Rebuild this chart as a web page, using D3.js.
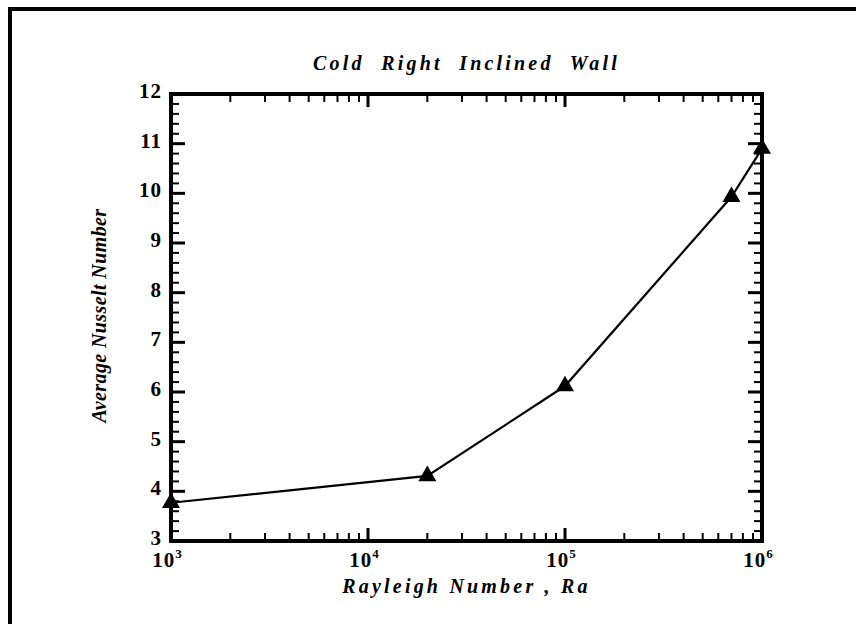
<!DOCTYPE html>
<html>
<head>
<meta charset="utf-8">
<script src="https://cdn.jsdelivr.net/npm/d3@7"></script>
<style>
  html, body { margin: 0; padding: 0; background: #fff; }
  svg text { font-family: "Liberation Serif", "Times New Roman", serif; font-weight: bold; fill: #000; }
  .tick-lab { font-size: 21px; }
  .ax-title { font-size: 20px; font-style: italic; }
</style>
</head>
<body>
<div id="chart"></div>
<script>
// Average Nusselt number vs Rayleigh number, cold right inclined wall
const rayleigh = [1e3, 2e4, 1e5, 7e5, 1e6];
const nusselt = [3.77, 4.31, 6.12, 9.93, 10.9];
const yTicks = [3, 4, 5, 6, 7, 8, 9, 10, 11, 12];
const xDecades = [1e3, 1e4, 1e5, 1e6];
const titleText = "Cold  Right  Inclined  Wall";
const xTitle = "Rayleigh Number , Ra";
const yTitle = "Average Nusselt Number";

const W = 856, H = 624;
const m = { top: 94, right: 94, bottom: 83, left: 171 };

const svg = d3.select("#chart").append("svg")
  .attr("width", W).attr("height", H).attr("viewBox", `0 0 ${W} ${H}`);

// outer frame (runs off the right/bottom edges)
svg.append("rect").attr("x", 10).attr("y", 9).attr("width", W + 20).attr("height", H + 20)
  .attr("fill", "none").attr("stroke", "#000").attr("stroke-width", 4);

const x = d3.scaleLog().domain([1e3, 1e6]).range([m.left, W - m.right]);
const y = d3.scaleLinear().domain([3, 12]).range([H - m.bottom, m.top]);

// minor ticks
const xMinor = [];
xDecades.slice(0, -1).forEach((d) => { for (let k = 2; k <= 9; k++) xMinor.push(d * k); });
const yMinor = [];
for (let v = 3; v < 12; v++) for (let k = 1; k <= 4; k++) yMinor.push(v + k * 0.2);

const [x0, x1] = x.range(), [y0, y1] = y.range();
const tk = svg.append("g").attr("stroke", "#000");

// bottom + top
[[y0, -1], [y1, 1]].forEach(([yy, dir]) => {
  tk.append("g").selectAll("line").data(xMinor).join("line")
    .attr("x1", x).attr("x2", x).attr("y1", yy).attr("y2", yy + dir * 8).attr("stroke-width", 2);
  tk.append("g").selectAll("line").data(xDecades).join("line")
    .attr("x1", x).attr("x2", x).attr("y1", yy).attr("y2", yy + dir * 13).attr("stroke-width", 3);
});
// left + right
[[x0, 1], [x1, -1]].forEach(([xx, dir]) => {
  tk.append("g").selectAll("line").data(yMinor).join("line")
    .attr("y1", y).attr("y2", y).attr("x1", xx).attr("x2", xx + dir * 8).attr("stroke-width", 2);
  tk.append("g").selectAll("line").data(yTicks).join("line")
    .attr("y1", y).attr("y2", y).attr("x1", xx).attr("x2", xx + dir * 14).attr("stroke-width", 3);
});

svg.append("rect").attr("x", x0).attr("y", y1).attr("width", x1 - x0).attr("height", y0 - y1)
  .attr("fill", "none").attr("stroke", "#000").attr("stroke-width", 4);

// y tick labels
svg.append("g").selectAll("text").data(yTicks).join("text")
  .attr("class", "tick-lab").attr("x", x0 - 9).attr("y", (d) => y(d) + 4)
  .attr("text-anchor", "end").attr("letter-spacing", 1).text((d) => d);

// x tick labels 10^n
const xl = svg.append("g").selectAll("text").data(xDecades).join("text")
  .attr("class", "tick-lab").attr("x", (d) => x(d) - 4).attr("y", y0 + 26)
  .attr("text-anchor", "middle");
xl.append("tspan").attr("letter-spacing", 1).text("10");
xl.append("tspan").attr("dy", -9).attr("font-size", 13).text((d) => Math.round(Math.log10(d)));

// data line + triangles
const line = d3.line().x((d, i) => x(rayleigh[i])).y((d) => y(d));
svg.append("path").datum(nusselt).attr("d", line)
  .attr("fill", "none").attr("stroke", "#000").attr("stroke-width", 2.2);
const tri = d3.symbol().type(d3.symbolTriangle).size(140);
svg.append("g").selectAll("path").data(nusselt).join("path")
  .attr("d", tri).attr("transform", (d, i) => `translate(${x(rayleigh[i])},${y(d)})`)
  .attr("fill", "#000");

// titles
svg.append("text").attr("class", "ax-title").attr("x", (x0 + x1) / 2).attr("y", 70)
  .attr("text-anchor", "middle").attr("font-size", 21).attr("letter-spacing", 3.2)
  .style("white-space", "pre").text(titleText);
svg.append("text").attr("class", "ax-title").attr("x", (x0 + x1) / 2).attr("y", 593)
  .attr("text-anchor", "middle").attr("letter-spacing", 3.2).text(xTitle);
svg.append("text").attr("class", "ax-title")
  .attr("transform", `translate(106,${(y0 + y1) / 2 - 2}) rotate(-90)`)
  .attr("text-anchor", "middle").attr("font-size", 22).attr("letter-spacing", 0.4).text(yTitle);
</script>
</body>
</html>
